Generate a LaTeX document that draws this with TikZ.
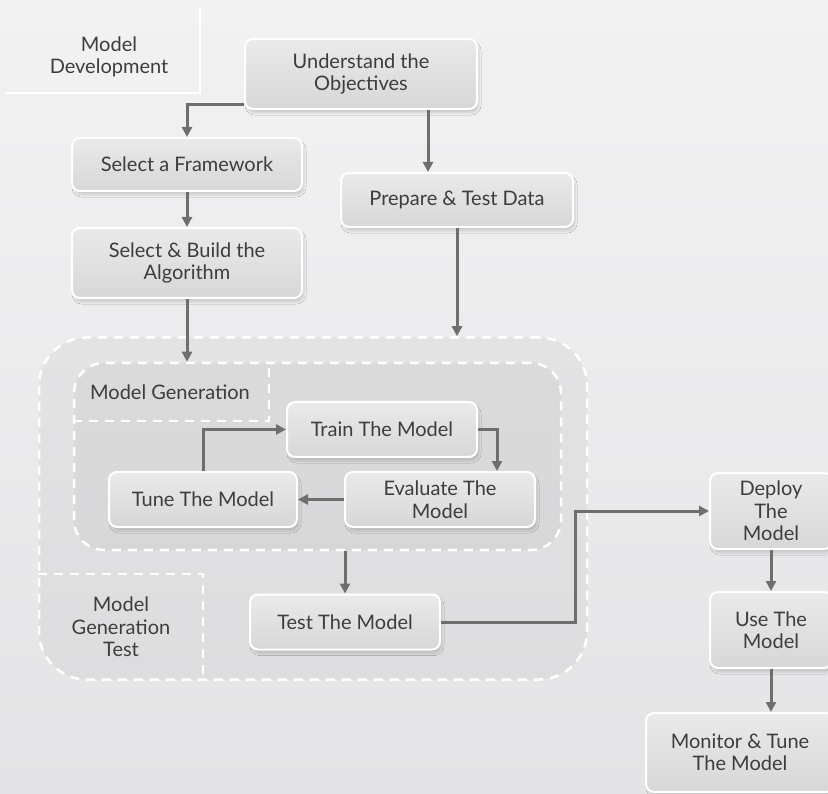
\documentclass[tikz,border=0pt]{standalone}
\usepackage{fontspec}
\setmainfont{Lato}
\usetikzlibrary{arrows.meta, shadows.blur}
\definecolor{bgtop}{HTML}{F2F2F3}
\definecolor{bgbot}{HTML}{E4E4E6}
\definecolor{boxtop}{HTML}{EAEAEB}
\definecolor{boxbot}{HTML}{D7D7D8}
\definecolor{arrowgray}{HTML}{6E6E6E}
\definecolor{txtgray}{HTML}{3D3D3D}

\begin{document}
\begin{tikzpicture}[x=1pt, y=-1pt, >={Triangle[length=10pt,width=10pt]},
  lbl/.style={text=txtgray, font=\fontsize{20}{22.5}\selectfont, align=center},
  mbox/.style={lbl, rounded corners=8pt, draw=white, line width=2pt,
    top color=boxtop, bottom color=boxbot, inner sep=0pt,
    blur shadow={shadow blur steps=6, shadow xshift=2pt, shadow yshift=-4pt, shadow opacity=14}},
  region/.style={draw=white, dash pattern=on 9pt off 7pt, line width=2.5pt, inner sep=0pt},
  divider/.style={draw=white, dash pattern=on 9pt off 7pt, line width=2.5pt},
  arr/.style={->, draw=arrowgray, line width=3pt}]
  \useasboundingbox (0,0) rectangle (828,794);
  \fill[top color=bgtop, bottom color=bgbot] (0,0) rectangle (828,794);

  % model development corner
  \draw[white, line width=2pt] (5,93) -- (200,93) -- (200,8);
  \node[lbl] (mdev) at (109,57) {Model\\Development};

  % left and right columns
  \node[mbox, minimum width=232, minimum height=70] (und) at (361,74) {Understand the\\Objectives};
  \node[mbox, minimum width=230, minimum height=53] (frame) at (187,164.5) {Select a Framework};
  \node[mbox, minimum width=230, minimum height=70] (algo) at (187,263) {Select \& Build the\\Algorithm};
  \node[mbox, minimum width=232, minimum height=54] (prep) at (457,200) {Prepare \& Test Data};

  % generation regions
  \node[region, rounded corners=48pt, fill=black, fill opacity=0.035, minimum width=548, minimum height=342] (outer) at (313,508.5) {};
  \node[region, rounded corners=30pt, fill=black, fill opacity=0.035, minimum width=487, minimum height=187] (gen) at (317.5,456.5) {};
  \coordinate (mgcorner) at (269,421);
  \coordinate (mtcorner) at (203,574);
  \draw[divider] (gen.west |- mgcorner) -- (mgcorner) -- (mgcorner |- gen.north);
  \draw[divider] (outer.west |- mtcorner) -- (mtcorner) -- (mtcorner |- outer.south);
  \node[lbl] (mgen) at (170,392) {Model Generation};
  \node[lbl] (mtest) at (121,627) {Model\\Generation\\Test};

  \node[mbox, minimum width=190, minimum height=55] (train) at (382,429.5) {Train The Model};
  \node[mbox, minimum width=188, minimum height=55] (tune) at (203,499.5) {Tune The Model};
  \node[mbox, minimum width=190, minimum height=55] (eval) at (440,499.5) {Evaluate The\\Model};
  \node[mbox, minimum width=190, minimum height=55] (test) at (345,622) {Test The Model};

  % deployment column
  \node[mbox, minimum width=122, minimum height=76] (deploy) at (771,511) {Deploy\\The\\Model};
  \node[mbox, minimum width=122, minimum height=76] (use) at (771,630) {Use The\\Model};
  \node[mbox, minimum width=188, minimum height=79] (monitor) at (740,752.5) {Monitor \& Tune\\The Model};

  % connectors
  \draw[arr] ([yshift=-31pt]und.west) -| (frame.north);
  \draw[arr] ([xshift=67pt]und.south) -- ([xshift=-29pt]prep.north);
  \draw[arr] (frame) -- (algo);
  \draw[arr] (algo.south) -- (algo.south |- gen.north);
  \draw[arr] (prep.south) -- (prep.south |- outer.north);
  \draw[arr] (tune.north) |- (train.west);
  \draw[arr] (train.east) -| ([xshift=57pt]eval.north);
  \draw[arr] (eval.west) -- (tune.east);
  \draw[arr] (test.north |- gen.south) -- (test.north);
  \coordinate (bend) at (575,622);
  \draw[arr] (test.east) -- (bend) |- (deploy.west);
  \draw[arr] (deploy) -- (use);
  \draw[arr] (use.south) -- (use.south |- monitor.north);
\end{tikzpicture}
\end{document}
